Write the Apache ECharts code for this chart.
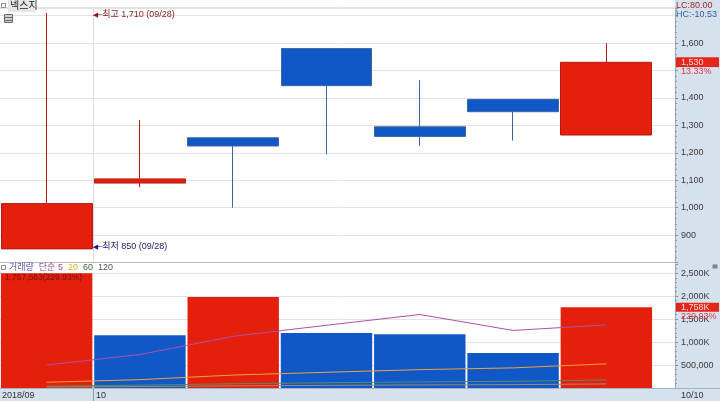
<!DOCTYPE html>
<html><head><meta charset="utf-8">
<script src="https://cdn.jsdelivr.net/npm/echarts@6/dist/echarts.min.js"></script>
<style>html,body{margin:0;padding:0;background:#fff}#c{width:720px;height:401px}</style>
</head><body><div id="c"></div>
<script>
const dates  = ['09/28','10/01','10/02','10/04','10/05','10/08','10/10'];
const opens  = [850, 1090, 1255, 1580, 1295, 1395, 1265];
const closes = [1015, 1105, 1225, 1445, 1260, 1350, 1530];
const lows   = [850, 1075, 1000, 1195, 1225, 1245, 1265];
const highs  = [1710, 1320, 1255, 1580, 1465, 1395, 1600];
const volumes = [2500000, 1150000, 1980000, 1200000, 1170000, 764380, 1757563];
const ma5   = [500000, 730000, 1126000, 1366000, 1600000, 1253000, 1374000];
const ma20  = [125000, 182000, 282000, 342000, 400000, 438000, 526000];
const ma60  = [42000, 61000, 94000, 114000, 133000, 146000, 175000];
const ma120 = [21000, 30000, 47000, 57000, 67000, 73000, 88000];
const priceLabelRange = [900, 1600];
const volLabelRange = [500000, 2500000];
const bottomLabels = ['2018/09', '10'];
const lastDateLabel = '10/10';
const stockName = '넥스지';
const lcText = 'LC:80.00';
const hcText = 'HC:-10.53';

const UP = '#e4200c', DOWN = '#1058c8';
const PANEL = '#d6e1ee';
const FONT = "'Liberation Sans','Noto Sans CJK KR',sans-serif";
const fmtN = v => v.toLocaleString('en-US');

const chart = echarts.init(document.getElementById('c'), null, {renderer: 'canvas'});

const P_TOP = 8, P_H = 254.6, V_TOP = 264, V_H = 124;
const P_MIN = 800, P_MAX = 1728, V_MAX = 2700000;

let hiIdx = highs.indexOf(Math.max(...highs));
let loIdx = lows.indexOf(Math.min(...lows));

const axisLabelStyle = {color: '#3a3a3a', fontSize: 9, fontFamily: FONT, margin: 6};
const tickAxis = (grid, min, max, step) => ({
  gridIndex: grid, type: 'value', position: 'right', min: min, max: max, interval: step,
  axisLine: {show: false, onZero: false}, axisLabel: {show: false}, splitLine: {show: false},
  axisTick: {show: true, length: 2, lineStyle: {color: '#8f9aa8'}}
});
const blankX = (grid) => ({gridIndex: grid, type: 'category', data: [''], show: false});

const option = {
  animation: false,
  backgroundColor: '#ffffff',
  grid: [
    {left: 0, right: 45, top: P_TOP, height: P_H},
    {left: 0, right: 67, top: P_TOP, height: P_H},
    {left: 0, right: 45, top: V_TOP, height: V_H},
    {left: 0, right: 67, top: V_TOP, height: V_H}
  ],
  xAxis: [
    blankX(0),
    {gridIndex: 1, type: 'category', data: dates, boundaryGap: true, show: false},
    blankX(2),
    {gridIndex: 3, type: 'category', data: dates, boundaryGap: true, show: false}
  ],
  yAxis: [
    {gridIndex: 0, type: 'value', position: 'right', min: P_MIN, max: P_MAX, interval: 100,
      axisLine: {show: true, onZero: false, lineStyle: {color: '#9aa6b4'}},
      axisTick: {show: true, length: 3, lineStyle: {color: '#7f8a98'}},
      axisLabel: Object.assign({}, axisLabelStyle, {
        formatter: v => (v < priceLabelRange[0] || v > priceLabelRange[1] ? '' : fmtN(v))}),
      splitLine: {show: true, lineStyle: {color: '#e2e2e2'}}},
    {gridIndex: 1, type: 'value', min: P_MIN, max: P_MAX, show: false},
    {gridIndex: 2, type: 'value', position: 'right', min: 0, max: V_MAX, interval: 500000,
      axisLine: {show: true, onZero: false, lineStyle: {color: '#9aa6b4'}},
      axisTick: {show: true, length: 3, lineStyle: {color: '#7f8a98'}},
      axisLabel: Object.assign({}, axisLabelStyle, {
        formatter: v => (v < volLabelRange[0] || v > volLabelRange[1]) ? '' :
          (v >= 1000000 ? fmtN(v / 1000) + 'K' : fmtN(v))}),
      splitLine: {show: true, lineStyle: {color: '#e2e2e2'}}},
    {gridIndex: 3, type: 'value', min: 0, max: V_MAX, show: false},
    tickAxis(0, P_MIN, P_MAX, 20),
    tickAxis(2, 0, V_MAX, 100000)
  ],
  series: [
    {type: 'candlestick', xAxisIndex: 1, yAxisIndex: 1, barWidth: '98%',
      data: dates.map((d, i) => [opens[i], closes[i], lows[i], highs[i]]),
      itemStyle: {color: UP, color0: DOWN, borderColor: '#b31a12', borderColor0: '#3c64a0', borderWidth: 1},
      markPoint: {
        symbol: 'circle', symbolSize: 0, silent: true,
        data: [
          {coord: [dates[hiIdx], highs[hiIdx]],
            label: {show: true, position: 'right', distance: 0, offset: [46, 2],
              formatter: '{a|◀─}' + '최고 ' + fmtN(highs[hiIdx]) + ' (' + dates[hiIdx] + ')',
              color: '#8a1c1c', fontSize: 9, fontFamily: FONT,
              rich: {a: {color: '#8a1c1c', fontSize: 7, fontFamily: 'DejaVu Sans'}}}},
          {coord: [dates[loIdx], lows[loIdx]],
            label: {show: true, position: 'right', distance: 0, offset: [46, -2],
              formatter: '{a|◀─}' + '최저 ' + fmtN(lows[loIdx]) + ' (' + dates[loIdx] + ')',
              color: '#1c1c6a', fontSize: 9, fontFamily: FONT,
              rich: {a: {color: '#1c1c8a', fontSize: 7, fontFamily: 'DejaVu Sans'}}}}
        ]
      }
    },
    {type: 'bar', xAxisIndex: 3, yAxisIndex: 3, barWidth: '98%',
      data: volumes.map((v, i) => ({value: v, itemStyle: {color: (i === 0 || v >= volumes[i - 1]) ? UP : DOWN}}))},
    {type: 'line', xAxisIndex: 3, yAxisIndex: 3, data: ma5, symbol: 'none', lineStyle: {color: '#b04fa6', width: 1}, z: 5},
    {type: 'line', xAxisIndex: 3, yAxisIndex: 3, data: ma20, symbol: 'none', lineStyle: {color: '#f0a23c', width: 1}, z: 5},
    {type: 'line', xAxisIndex: 3, yAxisIndex: 3, data: ma60, symbol: 'none', lineStyle: {color: '#5e8a5a', width: 1}, z: 5},
    {type: 'line', xAxisIndex: 3, yAxisIndex: 3, data: ma120, symbol: 'none', lineStyle: {color: '#9a8a7a', width: 1}, z: 5}
  ]
};
chart.setOption(option);

const lastClose = closes[closes.length - 1], prevClose = closes[closes.length - 2];
const pct = ((lastClose / prevClose - 1) * 100).toFixed(2);
const lastVol = volumes[volumes.length - 1], prevVol = volumes[volumes.length - 2];
const vpct = (lastVol / prevVol * 100).toFixed(2);
const yPrice = chart.convertToPixel({yAxisIndex: 0}, lastClose);
const yVol = chart.convertToPixel({yAxisIndex: 2}, lastVol);
const xBound = Math.round(chart.convertToPixel({xAxisIndex: 1}, dates[0]) * 2);

const txt = (x, y, s, color, size, extra) => Object.assign({
  type: 'text', x: x, y: y, z: 100,
  style: {text: s, fill: color, fontSize: size || 9, fontFamily: FONT, verticalAlign: 'middle'}
}, extra || {});

chart.setOption({
  graphic: [
    {type: 'rect', z: -100, shape: {x: 675, y: 0, width: 45, height: 401}, style: {fill: PANEL}},
    {type: 'rect', z: -100, shape: {x: 0, y: 389, width: 720, height: 12}, style: {fill: PANEL}},
    {type: 'line', z: -50, shape: {x1: xBound + 0.5, y1: P_TOP, x2: xBound + 0.5, y2: 262}, style: {stroke: '#dcdcdc', lineWidth: 1}},
    {type: 'line', z: 50, shape: {x1: 0, y1: 388.5, x2: 720, y2: 388.5}, style: {stroke: '#a9b4c2', lineWidth: 1}},
    {type: 'line', z: 50, shape: {x1: xBound + 0.5, y1: 389, x2: xBound + 0.5, y2: 401}, style: {stroke: '#8996a6', lineWidth: 1}},
    {type: 'line', z: 50, shape: {x1: 0, y1: 262.5, x2: 675, y2: 262.5}, style: {stroke: '#b8b8b8', lineWidth: 1}},
    {type: 'line', z: 50, shape: {x1: 0, y1: 7.5, x2: 675, y2: 7.5}, style: {stroke: '#e2e2e2', lineWidth: 1}},
    // title box
    {type: 'rect', z: 60, shape: {x: 1.5, y: 3.5, width: 4, height: 4}, style: {fill: '#ffffff', stroke: '#8a8a8a', lineWidth: 1}},
    {type: 'rect', z: 60, shape: {x: 8, y: 0, width: 27, height: 12}, style: {fill: '#e6e6e6'}},
    txt(10, 6, stockName, '#222222', 10),
    {type: 'rect', z: 60, shape: {x: 4.5, y: 14.5, width: 8, height: 8}, style: {fill: '#cfcfcf', stroke: '#6a6a6a', lineWidth: 1}},
    {type: 'line', z: 61, shape: {x1: 5, y1: 17.5, x2: 12, y2: 17.5}, style: {stroke: '#6a6a6a', lineWidth: 1}},
    {type: 'line', z: 61, shape: {x1: 5, y1: 20.5, x2: 12, y2: 20.5}, style: {stroke: '#6a6a6a', lineWidth: 1}},
    // LC / HC
    txt(676, 6, lcText, '#a02828', 9),
    txt(676, 14.5, hcText, '#2d5f9c', 9),
    // price tag
    {type: 'rect', z: 90, shape: {x: 676, y: yPrice - 5, width: 43, height: 10}, style: {fill: '#e5261a'}},
    txt(681, yPrice, fmtN(lastClose), '#ffdede', 9),
    {type: 'rect', z: 90, shape: {x: 678, y: yPrice + 5, width: 40, height: 9}, style: {fill: PANEL}},
    txt(681, yPrice + 9.5, pct + '%', '#e03848', 9),
    // volume header
    {type: 'rect', z: 80, shape: {x: 0, y: 263, width: 675, height: 10}, style: {fill: '#ffffff'}},
    {type: 'rect', z: 90, shape: {x: 1.5, y: 265.5, width: 4, height: 4}, style: {fill: '#ffffff', stroke: '#8a8a8a', lineWidth: 1}},
    {type: 'text', x: 9, y: 268, z: 100, style: {
      text: '{a|거래량}  {b|단순 5}  {c|20}  {d|60}  {e|120}', fontSize: 9, fontFamily: FONT, verticalAlign: 'middle',
      rich: {a: {fill: '#5a5ab0', fontSize: 9, fontFamily: FONT}, b: {fill: '#a24aa0', fontSize: 9, fontFamily: FONT},
        c: {fill: '#e2b020', fontSize: 9, fontFamily: FONT}, d: {fill: '#2f6a34', fontSize: 9, fontFamily: FONT},
        e: {fill: '#555555', fontSize: 9, fontFamily: FONT}}}},
    txt(5, 277.5, fmtN(lastVol) + '(' + vpct + '%)', '#7a1010', 8.5),
    {type: 'rect', z: 90, shape: {x: 712.5, y: 264.5, width: 5, height: 4}, style: {fill: '#7a8696'}},
    // volume tag
    {type: 'rect', z: 90, shape: {x: 676, y: yVol - 4.5, width: 43, height: 9}, style: {fill: '#e5261a'}},
    txt(681, yVol, fmtN(Math.round(lastVol / 1000)) + 'K', '#ffdede', 9),
    txt(681, yVol + 9, vpct + '%', '#e03848', 9),
    // bottom labels
    txt(2, 395.5, bottomLabels[0], '#333333', 9),
    txt(xBound + 3, 395.5, bottomLabels[1], '#333333', 9),
    txt(681, 395.5, lastDateLabel, '#333333', 9)
  ]
});
</script>
</body></html>
